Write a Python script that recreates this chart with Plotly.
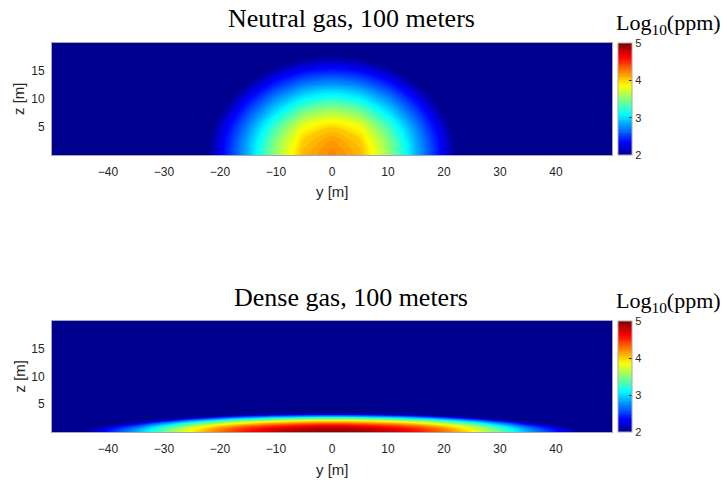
import plotly.graph_objects as go

# ---------------- data (log10 ppm) ----------------
y_m = [-50, -45, -40, -35, -30, -25, -20, -15, -10, -5, 0,
       5, 10, 15, 20, 25, 30, 35, 40, 45, 50]

# Neutral gas: heights (m) of the grid rows
z_neutral_m = [0, 2.5, 5, 7.5, 10, 12.5, 15, 17.5, 20]
neutral_log_ppm = [
    [1.0, 1.0, 1.0, 1.0, 1.0, 1.60, 2.27, 2.88, 3.56, 4.08, 4.23, 4.08, 3.56, 2.88, 2.27, 1.60, 1.0, 1.0, 1.0, 1.0, 1.0],
    [1.0, 1.0, 1.0, 1.0, 1.0, 1.58, 2.24, 2.84, 3.49, 4.01, 4.16, 4.01, 3.49, 2.84, 2.24, 1.58, 1.0, 1.0, 1.0, 1.0, 1.0],
    [1.0, 1.0, 1.0, 1.0, 1.0, 1.51, 2.16, 2.73, 3.31, 3.83, 3.99, 3.83, 3.31, 2.73, 2.16, 1.51, 1.0, 1.0, 1.0, 1.0, 1.0],
    [1.0, 1.0, 1.0, 1.0, 1.0, 1.40, 2.00, 2.55, 3.04, 3.48, 3.64, 3.48, 3.04, 2.55, 2.00, 1.40, 1.0, 1.0, 1.0, 1.0, 1.0],
    [1.0, 1.0, 1.0, 1.0, 1.0, 1.25, 1.80, 2.33, 2.76, 3.08, 3.21, 3.08, 2.76, 2.33, 1.80, 1.25, 1.0, 1.0, 1.0, 1.0, 1.0],
    [1.0, 1.0, 1.0, 1.0, 1.0, 1.02, 1.55, 2.06, 2.45, 2.71, 2.80, 2.71, 2.45, 2.06, 1.55, 1.02, 1.0, 1.0, 1.0, 1.0, 1.0],
    [1.0, 1.0, 1.0, 1.0, 1.0, 1.0, 1.30, 1.73, 2.12, 2.34, 2.42, 2.34, 2.12, 1.73, 1.30, 1.0, 1.0, 1.0, 1.0, 1.0, 1.0],
    [1.0, 1.0, 1.0, 1.0, 1.0, 1.0, 1.04, 1.41, 1.73, 1.95, 2.03, 1.95, 1.73, 1.41, 1.04, 1.0, 1.0, 1.0, 1.0, 1.0, 1.0],
    [1.0, 1.0, 1.0, 1.0, 1.0, 1.0, 1.0, 1.10, 1.37, 1.54, 1.60, 1.54, 1.37, 1.10, 1.0, 1.0, 1.0, 1.0, 1.0, 1.0, 1.0],
]

# Dense gas: heights (m) of the grid rows
z_dense_m = [0, 0.5, 1.0, 1.5, 2.0, 2.5, 3.0, 3.5, 4.0, 20]
dense_log_ppm = [
    [1.40, 1.95, 2.40, 2.85, 3.40, 3.90, 4.30, 4.60, 4.80, 4.92, 4.97, 4.92, 4.80, 4.60, 4.30, 3.90, 3.40, 2.85, 2.40, 1.95, 1.40],
    [1.33, 1.88, 2.33, 2.78, 3.33, 3.83, 4.23, 4.53, 4.73, 4.85, 4.90, 4.85, 4.73, 4.53, 4.23, 3.83, 3.33, 2.78, 2.33, 1.88, 1.33],
    [1.13, 1.68, 2.13, 2.58, 3.13, 3.63, 4.03, 4.33, 4.53, 4.65, 4.70, 4.65, 4.53, 4.33, 4.03, 3.63, 3.13, 2.58, 2.13, 1.68, 1.13],
    [1.0, 1.35, 1.80, 2.25, 2.80, 3.30, 3.70, 4.00, 4.20, 4.32, 4.37, 4.32, 4.20, 4.00, 3.70, 3.30, 2.80, 2.25, 1.80, 1.35, 1.0],
    [1.0, 1.0, 1.32, 1.77, 2.32, 2.82, 3.22, 3.52, 3.72, 3.84, 3.89, 3.84, 3.72, 3.52, 3.22, 2.82, 2.32, 1.77, 1.32, 1.0, 1.0],
    [1.0, 1.0, 1.0, 1.16, 1.71, 2.21, 2.61, 2.91, 3.11, 3.23, 3.28, 3.23, 3.11, 2.91, 2.61, 2.21, 1.71, 1.16, 1.0, 1.0, 1.0],
    [1.0, 1.0, 1.0, 1.0, 1.0, 1.47, 1.87, 2.17, 2.37, 2.49, 2.54, 2.49, 2.37, 2.17, 1.87, 1.47, 1.0, 1.0, 1.0, 1.0, 1.0],
    [1.0, 1.0, 1.0, 1.0, 1.0, 1.0, 1.0, 1.30, 1.50, 1.62, 1.67, 1.62, 1.50, 1.30, 1.0, 1.0, 1.0, 1.0, 1.0, 1.0, 1.0],
    [1.0] * 21,
    [1.0] * 21,
]

titles = ["Neutral gas, 100 meters", "Dense gas, 100 meters"]
x_ticks = [-40, -30, -20, -10, 0, 10, 20, 30, 40]
z_ticks = [5, 10, 15]
cbar_ticks = [2, 3, 4, 5]

# ---------------- styling ----------------
W, H = 727, 482
jet = [
    [0.0, "rgb(0,0,143)"],
    [0.111, "rgb(0,0,255)"],
    [0.365, "rgb(0,255,255)"],
    [0.619, "rgb(255,255,0)"],
    [0.873, "rgb(255,0,0)"],
    [1.0, "rgb(128,0,0)"],
]
TXT = "#262626"
SANS = "Liberation Sans, Arial, sans-serif"
SERIF = "Liberation Serif, Times New Roman, serif"
BORDER = "#a8a8b4"


def py(px):  # pixel row -> paper fraction
    return 1 - px / H


def px_(px):
    return px / W


panels = [
    dict(top=43, bottom=155, z=z_neutral_m, c=neutral_log_ppm),
    dict(top=321, bottom=432, z=z_dense_m, c=dense_log_ppm),
]
left, right = 52, 612

fig = go.Figure()
annotations = []
for i, p in enumerate(panels):
    xa = "x" if i == 0 else "x2"
    ya = "y" if i == 0 else "y2"
    fig.add_trace(go.Contour(
        x=y_m, y=p["z"], z=p["c"],
        zmin=2, zmax=5, zauto=False, colorscale=jet,
        contours=dict(start=2.0, end=5.0, size=0.05, coloring="fill", showlines=False),
        line=dict(width=0, smoothing=1.0),
        xaxis=xa, yaxis=ya, hoverinfo="skip",
        colorbar=dict(
            x=px_(618), xanchor="left", xpad=0, ypad=0,
            y=py((p["top"] + p["bottom"]) / 2), yanchor="middle",
            len=(p["bottom"] - p["top"]) / H, lenmode="fraction",
            thickness=14, thicknessmode="pixels",
            outlinewidth=1, outlinecolor=BORDER,
            tickmode="array", tickvals=cbar_ticks, ticks="inside", ticklen=3, tickcolor=TXT,
            tickfont=dict(family=SANS, size=11, color=TXT),
        ),
    ))
    axx = dict(
        domain=[px_(left), px_(right)], range=[-50, 50],
        tickvals=x_ticks, ticks="", showgrid=False, zeroline=False,
        showline=True, mirror=True, linecolor=BORDER, linewidth=1,
        tickfont=dict(family=SANS, size=12, color=TXT),
        ticklabelstandoff=6,
        anchor=ya,
    )
    axy = dict(
        domain=[py(p["bottom"]), py(p["top"])], range=[0, 20],
        tickvals=z_ticks, ticks="", showgrid=False, zeroline=False,
        showline=True, mirror=True, linecolor=BORDER, linewidth=1,
        tickfont=dict(family=SANS, size=12, color=TXT),
        ticklabelstandoff=4,
        anchor=xa,
    )
    if i == 0:
        fig.update_layout(xaxis=axx, yaxis=axy)
    else:
        fig.update_layout(xaxis2=axx, yaxis2=axy)

    off = p["top"] - 43
    annotations += [
        dict(text=titles[i], x=px_(351), y=py(19 + off), xref="paper", yref="paper",
             xanchor="center", yanchor="middle", showarrow=False,
             font=dict(family=SERIF, size=26, color="black")),
        dict(text="Log<sub>10</sub>(ppm)", x=px_(668), y=py(24 + off), xref="paper", yref="paper",
             xanchor="center", yanchor="middle", showarrow=False,
             font=dict(family=SERIF, size=22, color="black")),
        dict(text="y [m]", x=px_((left + right) / 2), y=py(p["bottom"] + 37), xref="paper", yref="paper",
             xanchor="center", yanchor="middle", showarrow=False,
             font=dict(family=SANS, size=15, color=TXT)),
        dict(text="z [m]", x=px_(19), y=py((p["top"] + p["bottom"]) / 2), xref="paper", yref="paper",
             xanchor="center", yanchor="middle", showarrow=False, textangle=-90,
             font=dict(family=SANS, size=15, color=TXT)),
    ]

fig.update_layout(
    width=W, height=H, margin=dict(l=0, r=0, t=0, b=0),
    paper_bgcolor="white", plot_bgcolor="white",
    annotations=annotations, showlegend=False,
)

fig.write_html("out.html", config={"displayModeBar": False},
               post_script="document.body.style.margin='0px';")
